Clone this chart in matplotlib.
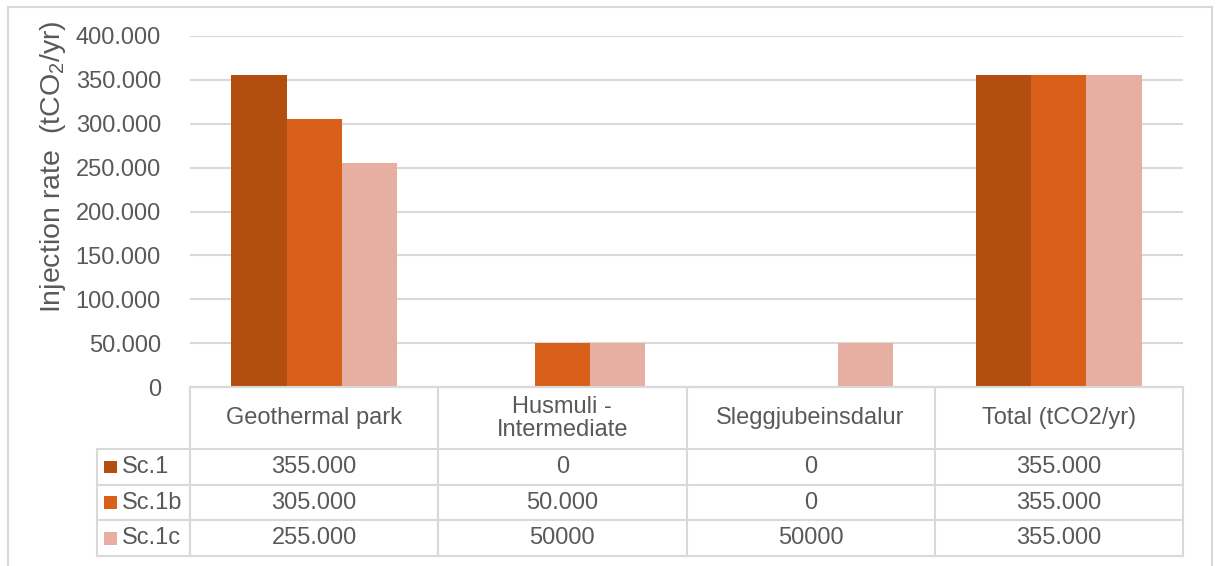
import numpy as np
import matplotlib
matplotlib.use("Agg")
import matplotlib.pyplot as plt
from matplotlib.patches import Rectangle

# --- data ---
categories = ["Geothermal park", "Husmuli -\nIntermediate", "Sleggjubeinsdalur", "Total (tCO2/yr)"]
series_names = ["Sc.1", "Sc.1b", "Sc.1c"]
sc1 = [355000, 0, 0, 355000]
sc1b = [305000, 50000, 0, 355000]
sc1c = [255000, 50000, 50000, 355000]
# cells that the table shows without thousands separator
plain_cells = [(2, 1), (2, 2)]
y_ticks = [0, 50000, 100000, 150000, 200000, 250000, 300000, 350000, 400000]

colors = ["#B34E11", "#D9601A", "#E7AFA2"]
grey_txt = "#595959"
grid_col = "#D9D9D9"
fs = 17

plt.rcParams["font.family"] = ["Liberation Sans", "DejaVu Sans"]
plt.rcParams["mathtext.default"] = "regular"

W, H = 1218, 566
fig = plt.figure(figsize=(W / 100, H / 100), dpi=100)

def box(x0, y0, x1, y1):
    # pixel box (top-left origin) -> figure fraction rect
    return [x0 / W, 1 - y1 / H, (x1 - x0) / W, (y1 - y0) / H]

# outer chart frame
fig.patches.append(Rectangle((8 / W, -0.05), (1212 - 8) / W, 1.05 - 7 / H,
                             transform=fig.transFigure, fill=False,
                             edgecolor=grid_col, linewidth=1.5))

plot_l, plot_r, plot_t, plot_b = 190, 1183, 36, 387
tab_l, tab_b = 97, 556

ax = fig.add_axes(box(plot_l, plot_t, plot_r, plot_b))
values = [sc1, sc1b, sc1c]
x = np.arange(len(categories))
bw = 0.222
for i, (vals, c) in enumerate(zip(values, colors)):
    ax.bar(x + (i - 1) * bw, vals, width=bw, color=c, zorder=3, linewidth=0)

ax.set_xlim(-0.5, len(categories) - 0.5)
ax.set_ylim(0, 400000)
ax.set_yticks(y_ticks)
ax.set_yticklabels([f"{v:,.0f}".replace(",", ".") for v in y_ticks],
                   fontsize=fs, color=grey_txt)
ax.tick_params(axis="y", length=0, pad=21)
ax.set_xticks([])
ax.grid(axis="y", color=grid_col, linewidth=1.5, zorder=0)
for s in ["top", "right", "left"]:
    ax.spines[s].set_visible(False)
ax.spines["bottom"].set_color(grid_col)
ax.spines["bottom"].set_linewidth(1.5)

fig.text(53 / W, 1 - 167 / H, "Injection rate  (tCO$_2$/yr)", rotation=90,
         ha="center", va="center", fontsize=20.5, color=grey_txt)

# --- data table under the plot ---
leg_w = (plot_l - tab_l) / ((plot_r - plot_l) / len(categories))
tax = fig.add_axes(box(tab_l, plot_b, plot_r, tab_b))
tax.set_xlim(-0.5 - leg_w, len(categories) - 0.5)
hdr = 1.75
n_rows = len(series_names)
tax.set_ylim(hdr + n_rows, 0)
tax.axis("off")

lk = dict(color=grid_col, linewidth=1.5, clip_on=False)
# horizontal lines
tax.plot([-0.5, len(categories) - 0.5], [0, 0], **lk)
for r in range(n_rows + 1):
    tax.plot([-0.5 - leg_w, len(categories) - 0.5], [hdr + r, hdr + r], **lk)
# vertical lines
for b in np.arange(len(categories) + 1) - 0.5:
    tax.plot([b, b], [0, hdr + n_rows], **lk)
tax.plot([-0.5 - leg_w] * 2, [hdr, hdr + n_rows], **lk)

for j, cat in enumerate(categories):
    tax.text(j, hdr / 2, cat, ha="center", va="center", fontsize=fs,
             color=grey_txt, linespacing=1.05)

for i, (name, vals, c) in enumerate(zip(series_names, values, colors)):
    yc = hdr + i + 0.5
    tax.add_patch(Rectangle((-0.5 - leg_w + 0.03, yc - 0.18), 0.052, 0.36,
                            facecolor=c, edgecolor="none", clip_on=False))
    tax.text(-0.5 - leg_w + 0.1, yc, name, ha="left", va="center",
             fontsize=fs, color=grey_txt)
    for j, v in enumerate(vals):
        if (i, j) in plain_cells:
            s = f"{v:.0f}"
        else:
            s = f"{v:,.0f}".replace(",", ".")
        tax.text(j, yc, s, ha="center", va="center", fontsize=fs, color=grey_txt)

fig.savefig("out.png", dpi=100, facecolor="white")
